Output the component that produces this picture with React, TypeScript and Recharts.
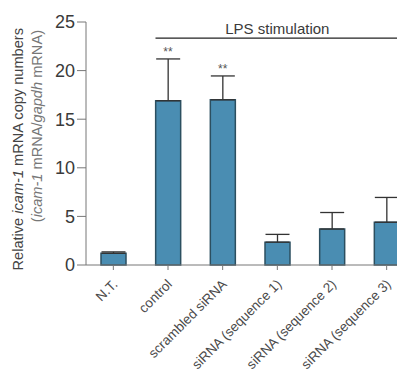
import {
  ComposedChart,
  Bar,
  Line,
  XAxis,
  YAxis,
  ErrorBar,
  ReferenceLine,
  LabelList,
} from "recharts";

const groups = [
  "N.T.",
  "control",
  "scrambled siRNA",
  "siRNA (sequence 1)",
  "siRNA (sequence 2)",
  "siRNA (sequence 3)",
];
const means = [1.2, 16.9, 17.0, 2.35, 3.7, 4.4];
const errors = [0.15, 4.3, 2.45, 0.8, 1.7, 2.55];
const stars = ["", "**", "**", "", "", ""];
const yTicks = [0, 5, 10, 15, 20, 25];

const data = groups.map((g, i) => ({
  group: g,
  mean: means[i],
  err: [0, errors[i]],
  top: stars[i] ? means[i] + errors[i] : null,
  star: stars[i],
}));

const BAR = "#4a8db2";
const EDGE = "#2c4f60";
const TEXT = "#4a4a4a";

const XTick = (props: any) => {
  const { x, y, payload } = props;
  return (
    <text
      x={x + 5}
      y={y + 13}
      transform={`rotate(-45, ${x + 5}, ${y + 13})`}
      textAnchor="end"
      fontSize={13.5}
      fill={TEXT}
      fontFamily="Liberation Sans, Arial, sans-serif"
    >
      {payload.value}
    </text>
  );
};

const YLabel = () => (
  <g fontFamily="Liberation Sans, Arial, sans-serif" fontSize={14.6}>
    <text x={15} y={20} transform="rotate(-90, 15, 20)" textAnchor="end" fill="#444">
      Relative <tspan fontStyle="italic">icam-1</tspan> mRNA copy numbers
    </text>
    <text x={34} y={22} transform="rotate(-90, 34, 22)" textAnchor="end" fill="#777">
      (<tspan fontStyle="italic">icam-1</tspan> mRNA/<tspan fontStyle="italic">gapdh</tspan> mRNA)
    </text>
  </g>
);

export default function App() {
  return (
    <div style={{ width: 397, height: 364, overflow: "hidden" }}>
      <ComposedChart
        width={420}
        height={364}
        data={data}
        margin={{ top: 14, right: 14, bottom: 0, left: 0 }}
        barSize={25}
        style={{ fontFamily: "Liberation Sans, Arial, sans-serif" }}
      >
        <XAxis
          dataKey="group"
          interval={0}
          tick={<XTick />}
          tickSize={5}
          stroke="#777"
          height={107}
        />
        <YAxis
          domain={[0, 25]}
          ticks={yTicks}
          width={78}
          tickSize={9}
          stroke="#777"
          tick={{ fontSize: 18, fill: "#3a3a3a" }}
          label={<YLabel />}
        />
        <ReferenceLine
          segment={[
            { x: "control", y: 23.35 },
            { x: "siRNA (sequence 3)", y: 23.35 },
          ]}
          stroke="#222"
          shape={(p: any) => (
            <line
              x1={p.x1 - 12.5}
              y1={p.y1}
              x2={p.x2 + 12.5}
              y2={p.y2}
              stroke="#222"
              strokeWidth={1.2}
            />
          )}
          label={{
            value: "LPS stimulation",
            position: "top",
            fill: "#3a3a3a",
            fontSize: 15,
            offset: 4,
          }}
        />
        <Bar
          dataKey="mean"
          fill={BAR}
          stroke={EDGE}
          strokeWidth={1.5}
          isAnimationActive={false}
        >
          <ErrorBar
            dataKey="err"
            direction="y"
            width={12}
            stroke="#333"
            strokeWidth={1.3}
          />
        </Bar>
        <Line
          dataKey="top"
          stroke="none"
          dot={false}
          activeDot={false}
          connectNulls={false}
          isAnimationActive={false}
        >
          <LabelList
            dataKey="star"
            position="top"
            offset={3}
            fontSize={12}
            fill="#555"
          />
        </Line>
      </ComposedChart>
    </div>
  );
}
